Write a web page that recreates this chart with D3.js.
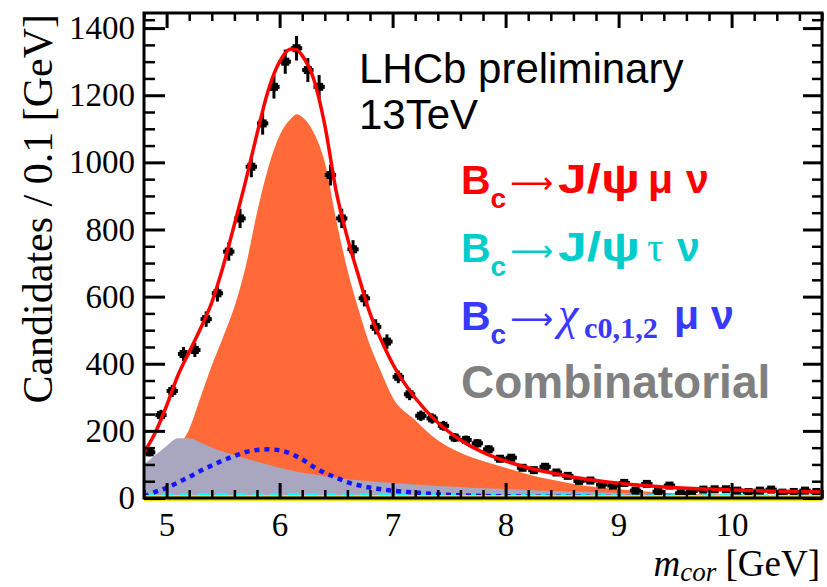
<!DOCTYPE html>
<html>
<head>
<meta charset="utf-8">
<script src="https://cdn.jsdelivr.net/npm/d3@7"></script>
<style>
  body { margin: 0; background: #fff; }
  svg { display: block; }
</style>
</head>
<body>
<script>
// bin centres of the data histogram (0.1 GeV bins)
var binCentres = [4.85, 4.95, 5.05, 5.15, 5.25, 5.35, 5.45, 5.55, 5.65, 5.75,
                  5.85, 5.95, 6.05, 6.15, 6.25, 6.35, 6.45, 6.55, 6.65, 6.75,
                  6.85, 6.95, 7.05, 7.15, 7.25, 7.35, 7.45, 7.55, 7.65, 7.75,
                  7.85, 7.95, 8.05, 8.15, 8.25, 8.35, 8.45, 8.55, 8.65, 8.75,
                  8.85, 8.95, 9.05, 9.15, 9.25, 9.35, 9.45, 9.55, 9.65, 9.75,
                  9.85, 9.95, 10.05, 10.15, 10.25, 10.35, 10.45, 10.55, 10.65, 10.75];
var candidates = [136, 247, 319, 429, 441, 533, 610, 734, 833, 987,
                  1116, 1225, 1300, 1340, 1275, 1225, 962, 833, 741, 595,
                  510, 466, 361, 309, 245, 237, 215, 180, 173, 163,
                  145, 117, 120, 90, 83, 93, 76, 66, 51, 52,
                  40, 37, 45, 22, 42, 19, 37, 14, 21, 25,
                  26, 26, 22, 18, 22, 25, 16, 18, 22, 18];

// fit model, sampled along m_cor
var modelX = [4.8, 4.9, 5.0, 5.1, 5.2, 5.3, 5.4, 5.5, 5.6, 5.7, 5.8, 5.9, 6.0, 6.1, 6.15, 6.2,
              6.3, 6.4, 6.5, 6.6, 6.7, 6.8, 6.9, 7.0, 7.2, 7.4, 7.6, 7.8, 8.0, 8.2,
              8.4, 8.6, 8.8, 9.0, 9.2, 9.4, 9.6, 9.8, 10.0, 10.2, 10.4, 10.6, 10.8];
var totalFit = [135, 195, 275, 365, 435, 505, 583, 690, 815, 945, 1085, 1215, 1300, 1338, 1336, 1318,
                1250, 1111, 915, 775, 660, 550, 470, 400, 298, 225, 173, 136, 110, 90,
                75, 62, 52, 44, 38, 33, 29, 26, 24, 22, 20, 19, 18];
var jpsiMuNu = [20, 50, 95, 150, 205, 300, 395, 480, 570, 690, 850, 985, 1080, 1130, 1143, 1135,
                1090, 1000, 830, 680, 560, 455, 375, 300, 232, 172, 135, 110, 90, 70,
                55, 42, 33, 26, 20, 16, 13, 11, 10, 9, 8, 7, 6];
var combinatorial = [100, 128, 155, 178, 178, 165, 150, 138, 128, 118, 108, 99, 90, 82, 78, 75,
                     70, 65, 61, 56, 53, 50, 47, 45, 40, 36, 33, 29, 27, 24,
                     21, 19, 17, 15, 14, 12, 11, 10, 10, 9, 8, 8, 7];
var chicMuNu = [5, 18, 30, 46, 63, 81, 97, 112, 125, 137, 143, 145, 142, 132, 124, 115,
                93, 75, 61, 47, 38, 31, 26, 22, 16, 11, 8, 6, 5, 4,
                4, 4, 3, 3, 3, 3, 2, 2, 2, 2, 2, 2, 2];
var jpsiTauNu = [7, 7, 7, 7, 7, 7, 7, 7, 7, 7, 7, 7, 7, 7, 7, 7,
                 7, 6, 6, 6, 6, 6, 6, 6, 5, 5, 5, 5, 5, 5,
                 5, 5, 5, 4, 4, 4, 4, 4, 4, 4, 4, 4, 4];
var otherComp = modelX.map(function() { return 0; });

// axis ticks
var xMajor = [5, 6, 7, 8, 9, 10];
var xMinor = [4.8, 5.2, 5.4, 5.6, 5.8, 6.2, 6.4, 6.6, 6.8, 7.2, 7.4, 7.6, 7.8,
              8.2, 8.4, 8.6, 8.8, 9.2, 9.4, 9.6, 9.8, 10.2, 10.4, 10.6, 10.8];
var yMajor = [0, 200, 400, 600, 800, 1000, 1200, 1400];
var yMinor = [50, 100, 150, 250, 300, 350, 450, 500, 550, 650, 700, 750, 850, 900, 950,
              1050, 1100, 1150, 1250, 1300, 1350, 1400, 1425];

var W = 827, H = 587;
var margin = {left: 144, top: 13, right: 5, bottom: 89};
var pw = W - margin.left - margin.right,
    ph = H - margin.top - margin.bottom;

var svg = d3.select('body').append('svg')
            .attr('width', W)
            .attr('height', H);

var x = d3.scaleLinear().domain([4.8, 10.8]).range([0, pw]);
var y = d3.scaleLinear().domain([0, 1445]).range([ph, 0]);

var g = svg.append('g')
           .attr('transform', 'translate(' + margin.left + ',' + margin.top + ')');

g.append('clipPath').attr('id', 'plotclip')
    .append('rect').attr('width', pw).attr('height', ph);

var plot = g.append('g').attr('clip-path', 'url(#plotclip)');

var model = modelX.map(function(v, i) {
    return {x: v, tot: totalFit[i], sig: jpsiMuNu[i], comb: combinatorial[i],
            chic: chicMuNu[i], tau: jpsiTauNu[i], other: otherComp[i]};
});

function area(key) {
    return d3.area().curve(d3.curveMonotoneX)
             .x(function(d) { return x(d.x); })
             .y0(y(0))
             .y1(function(d) { return y(d[key]); });
}
function line(key) {
    return d3.line().curve(d3.curveMonotoneX)
             .x(function(d) { return x(d.x); })
             .y(function(d) { return y(d[key]); });
}

// yellow component sits on the baseline, mostly hidden by the frame
g.append('path').datum(model)
    .attr('d', line('other'))
    .attr('fill', 'none').attr('stroke', '#f2e600').attr('stroke-width', 6);

// filled components
plot.append('path').datum(model)
    .attr('d', area('sig'))
    .attr('fill', '#ff6a38');
plot.append('path').datum(model)
    .attr('d', area('comb'))
    .attr('fill', '#a9a6bf');

// tau component: thick cyan dashes
plot.append('path').datum(model)
    .attr('d', line('tau'))
    .attr('fill', 'none').attr('stroke', '#00ffff')
    .attr('stroke-width', 5).attr('stroke-dasharray', '12,6');

// chi_c component: blue dotted
plot.append('path').datum(model)
    .attr('d', line('chic'))
    .attr('fill', 'none').attr('stroke', '#1414ff')
    .attr('stroke-width', 4.5).attr('stroke-dasharray', '5,5');

// data points with error bars
var pts = plot.selectAll('g.pt')
    .data(binCentres.map(function(c, i) { return {x: c, n: candidates[i]}; }))
    .enter().append('g').attr('class', 'pt');
pts.append('line')
    .attr('x1', function(d) { return x(d.x - 0.05); })
    .attr('x2', function(d) { return x(d.x + 0.05); })
    .attr('y1', function(d) { return y(d.n); })
    .attr('y2', function(d) { return y(d.n); })
    .attr('stroke', '#000').attr('stroke-width', 4);
pts.append('line')
    .attr('x1', function(d) { return x(d.x); })
    .attr('x2', function(d) { return x(d.x); })
    .attr('y1', function(d) { return y(d.n + Math.sqrt(d.n)); })
    .attr('y2', function(d) { return y(Math.max(0, d.n - Math.sqrt(d.n))); })
    .attr('stroke', '#000').attr('stroke-width', 3);
pts.append('rect')
    .attr('x', function(d) { return x(d.x) - 4; })
    .attr('y', function(d) { return y(d.n) - 4; })
    .attr('width', 8).attr('height', 8)
    .attr('fill', '#000');

// total fit
plot.append('path').datum(model)
    .attr('d', line('tot'))
    .attr('fill', 'none').attr('stroke', '#ff0000').attr('stroke-width', 3.5);

/*
 * Axes: ROOT style, ticks drawn inward on all four sides
 */
function styleAxis(sel, width) {
    sel.select('.domain').remove();
    sel.selectAll('.tick line').attr('stroke', '#000').attr('stroke-width', width);
    sel.selectAll('text')
        .attr('fill', '#000')
        .style('font-family', '"Liberation Serif", "Times New Roman", serif')
        .style('font-size', '33px');
}

g.append('g').attr('transform', 'translate(0,' + ph + ')')
    .call(d3.axisBottom(x).tickValues(xMajor).tickSize(-15).tickSizeOuter(0)
            .tickPadding(15).tickFormat(d3.format('d')))
    .call(styleAxis, 3);
g.append('g').attr('transform', 'translate(0,' + ph + ')')
    .call(d3.axisBottom(x).tickValues(xMinor).tickSize(-8).tickSizeOuter(0).tickFormat(''))
    .call(styleAxis, 2.5);
g.append('g')
    .call(d3.axisTop(x).tickValues(xMajor).tickSize(-15).tickSizeOuter(0).tickFormat(''))
    .call(styleAxis, 3);
g.append('g')
    .call(d3.axisTop(x).tickValues(xMinor).tickSize(-8).tickSizeOuter(0).tickFormat(''))
    .call(styleAxis, 2.5);

g.append('g')
    .call(d3.axisLeft(y).tickValues(yMajor).tickSize(-21).tickSizeOuter(0)
            .tickPadding(9).tickFormat(d3.format('d')))
    .call(styleAxis, 3);
g.append('g')
    .call(d3.axisLeft(y).tickValues(yMinor).tickSize(-11).tickSizeOuter(0).tickFormat(''))
    .call(styleAxis, 2.5);
g.append('g').attr('transform', 'translate(' + pw + ',0)')
    .call(d3.axisRight(y).tickValues(yMajor).tickSize(-19).tickSizeOuter(0).tickFormat(''))
    .call(styleAxis, 3);
g.append('g').attr('transform', 'translate(' + pw + ',0)')
    .call(d3.axisRight(y).tickValues(yMinor).tickSize(-10).tickSizeOuter(0).tickFormat(''))
    .call(styleAxis, 2.5);

// frame
g.append('rect')
    .attr('width', pw).attr('height', ph)
    .attr('fill', 'none').attr('stroke', '#000').attr('stroke-width', 3);

/*
 * Axis titles
 */
var serif = '"Liberation Serif", "Times New Roman", serif',
    sans = '"Liberation Sans", Arial, sans-serif';

svg.append('text')
    .attr('transform', 'translate(52,14) rotate(-90)')
    .attr('text-anchor', 'end')
    .style('font-family', serif).style('font-size', '42px')
    .text('Candidates / 0.1 [GeV]');

var xt = svg.append('text')
    .attr('x', margin.left + pw - 2).attr('y', 576)
    .attr('text-anchor', 'end')
    .style('font-family', serif).style('font-size', '37px');
xt.append('tspan').style('font-style', 'italic').text('m');
xt.append('tspan').style('font-style', 'italic').style('font-size', '27px')
    .attr('dy', 5).text('cor');
xt.append('tspan').attr('dy', -5).text(' [GeV]');

/*
 * Labels and legend
 */
svg.append('text').attr('x', 359).attr('y', 83)
    .style('font-family', sans).style('font-size', '42px')
    .text('LHCb preliminary');
svg.append('text').attr('x', 359).attr('y', 129)
    .style('font-family', sans).style('font-size', '42px')
    .text('13TeV');

var legX = 461;
function legendLine(yPos, colour) {
    return svg.append('text').attr('x', legX).attr('y', yPos)
        .attr('fill', colour)
        .style('font-family', sans).style('font-size', '41px').style('font-weight', 'bold');
}
// "B_c ->" prefix shared by the three decay modes
function bcArrow(t) {
    t.append('tspan').text('B');
    t.append('tspan').style('font-size', '28px').attr('dy', 14).text('c');
    t.append('tspan').attr('x', 510).attr('dy', -15)
        .style('font-family', '"DejaVu Sans", sans-serif').style('font-weight', 'normal')
        .style('font-size', '30px')
        .text('\u27f6');
    t.append('tspan').attr('dy', 1).text('');
}
function wide(tspan, len) {
    return tspan.attr('textLength', len).attr('lengthAdjust', 'spacingAndGlyphs');
}

var l1 = legendLine(194, '#ff0000');
bcArrow(l1);
wide(l1.append('tspan').attr('x', 558).text('J/\u03c8'), 82);
l1.append('tspan').attr('x', 648).text('\u03bc');
l1.append('tspan').attr('x', 686).text('\u03bd');

var l2 = legendLine(262, '#00cccc');
bcArrow(l2);
wide(l2.append('tspan').attr('x', 558).text('J/\u03c8'), 82);
l2.append('tspan').attr('x', 647).style('font-family', serif).style('font-weight', 'normal')
    .text('\u03c4');
l2.append('tspan').attr('x', 677).text('\u03bd');

var l3 = legendLine(330, '#3838ff');
bcArrow(l3);
l3.append('tspan').attr('x', 558).style('font-family', serif).style('font-style', 'italic')
    .style('font-weight', 'normal').style('font-size', '46px').text('\u03c7');
wide(l3.append('tspan').attr('x', 584).style('font-family', serif).style('font-size', '30px')
    .attr('dy', 9).text('c0,1,2'), 74);
l3.append('tspan').attr('x', 674).attr('dy', -9).text('\u03bc');
l3.append('tspan').attr('x', 711).text('\u03bd');

var l4 = legendLine(398, '#808080');
l4.style('font-size', '46px').text('Combinatorial');
</script>
</body>
</html>
